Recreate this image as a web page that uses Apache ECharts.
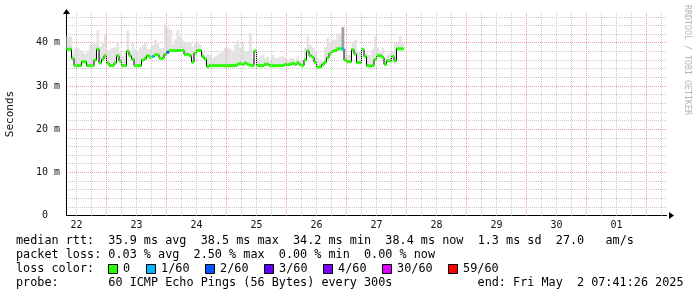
<!DOCTYPE html>
<html><head><meta charset="utf-8">
<script src="https://cdn.jsdelivr.net/npm/echarts@6/dist/echarts.min.js"></script>
<style>html,body{margin:0;padding:0;background:#fff}#c{width:697px;height:297px}</style>
</head><body><div id="c"></div>
<script>
// hours after Apr 22 00:00; each value covers one hour
const startHour = 8;
const median = [
38.5,38.5,36.4,34.7,34.7,34.7,35.6,35.6,34.7,34.7,
34.7,36.0,38.5,35.3,36.2,37.0,35.3,34.7,34.7,35.3,
37.0,35.8,34.7,34.7,38.0,37.0,36.2,34.7,34.7,34.7,
36.0,36.4,37.0,36.6,36.8,37.2,37.2,36.4,36.4,37.3,
37.8,38.2,38.2,38.2,38.2,38.2,38.2,37.3,37.3,37.0,
35.5,37.6,38.2,38.2,36.8,36.2,34.5,34.7,34.7,34.7,
34.7,34.7,34.7,34.7,34.7,34.7,34.7,34.7,35.0,35.2,
35.0,35.3,35.0,34.8,34.7,38.1,34.7,34.7,34.7,35.0,
35.0,34.7,34.7,34.7,34.7,34.7,34.7,35.0,34.9,35.0,
35.2,35.0,35.4,34.9,34.7,36.0,38.1,37.0,36.6,35.5,
34.3,34.4,34.9,35.5,36.5,37.5,38.0,38.2,38.6,38.6,
38.6,36.0,35.6,35.6,38.4,37.4,35.4,35.4,38.5,36.8,
34.7,34.6,34.7,36.1,37.0,37.0,36.6,35.0,35.8,35.8,
36.8,35.8,38.6,38.6,38.6
];
const smokeTop = [
41.5,41.5,37.5,38.8,38.8,38.2,37.8,37.3,38.0,39.5,
39.7,39.8,42.8,39.1,40.0,42.0,38.2,38.5,38.8,39.0,
40.2,37.6,37.0,38.0,42.8,38.2,39.9,38.5,38.0,38.8,
39.5,39.9,38.5,38.6,39.5,40.7,39.8,38.8,38.8,44.2,
43.5,43.0,39.5,40.8,43.0,41.5,40.5,39.9,40.2,40.0,
39.1,40.2,40.0,39.5,38.0,37.0,37.4,37.2,36.4,36.8,
37.2,37.6,38.0,38.8,38.8,38.5,37.8,39.5,40.5,38.8,
39.9,38.0,38.0,42.2,36.4,38.4,36.4,36.8,37.2,36.4,
36.8,36.0,37.2,36.4,36.4,36.8,36.8,36.4,36.0,36.4,
36.4,35.7,36.8,35.7,35.7,38.8,41.5,39.5,38.8,38.0,
36.4,35.7,35.7,39.1,41.1,39.9,40.7,40.7,42.2,42.2,
38.8,38.8,37.2,37.2,40.3,40.7,38.0,38.0,38.8,37.6,
37.2,37.2,38.4,41.5,38.8,38.0,38.8,36.4,37.2,37.6,
38.0,39.9,39.9,41.5,39.9
];
const lossHours = [42, 48, 118];
const lossPings = [1, 2, 1];
const darkSmokeHours = [118];
const darkSmokeLow = [38.8];
const darkSmokeHigh = [43.6];

const xMinHour = 8, xMaxHour = 248;
const dayTickHours = [12, 36, 60, 84, 108, 132, 156, 180, 204, 228];
const dayLabels = ['22', '23', '24', '25', '26', '27', '28', '29', '30', '01'];
const yLabels = {0: '0  ', 10: '10 m', 20: '20 m', 30: '30 m', 40: '40 m'};

const lossLegendLabels = ['0', '1/60', '2/60', '3/60', '4/60', '30/60', '59/60'];
const lossLegendPings = [0, 1, 2, 3, 4, 30, 59];
const lossLegendColors = ['#26ff00', '#00b8ff', '#0059ff', '#5e00ff', '#7e00ff', '#dd00ff', '#ff0000'];

const line1 = 'median rtt:  35.9 ms avg  38.5 ms max  34.2 ms min  38.4 ms now  1.3 ms sd  27.0   am/s';
const line2 = 'packet loss: 0.03 % avg  2.50 % max  0.00 % min  0.00 % now';
const line3Label = 'loss color:';
const line4 = 'probe:       60 ICMP Echo Pings (56 Bytes) every 300s';
const endText = 'end: Fri May  2 07:41:26 2025';
const watermark = 'RRDTOOL / TOBI OETIKER';

const MONO = '"DejaVu Sans Mono", monospace';
const LFONT = '11.8px ' + MONO;
const CW = 7.1;

function lossColor(p) {
  let c = lossLegendColors[0];
  for (let i = 0; i < lossLegendPings.length; i++) if (p >= lossLegendPings[i]) c = lossLegendColors[i];
  return c;
}

const hourOf = i => startHour + i;
const medianData = median.map((v, i) => {
  const k = lossHours.indexOf(hourOf(i));
  return [hourOf(i), v, k >= 0 ? lossPings[k] : 0];
});
const stepData = median.map((v, i) => [hourOf(i), v]);
stepData.push([hourOf(median.length), median[median.length - 1]]);
const smokeData = smokeTop.map((t, i) => [hourOf(i), median[i], t]);
const darkData = darkSmokeHours.map((h, i) => [h, darkSmokeLow[i], darkSmokeHigh[i]]);

const minorX = [], majorX = [];
for (let h = Math.ceil(xMinHour / 6) * 6; h < xMaxHour; h += 6) {
  if (h % 24 === 0) majorX.push({xAxis: h}); else minorX.push({xAxis: h});
}

function rangeRect(fill) {
  return function (params, api) {
    const h = api.value(0), lo = api.value(1), hi = api.value(2);
    const p0 = api.coord([h, hi]);
    const p1 = api.coord([h + 1, lo]);
    return {type: 'rect', shape: {x: p0[0], y: p0[1], width: p1[0] - p0[0] + 0.3, height: p1[1] - p0[1]},
      style: {fill: fill}};
  };
}

const chart = echarts.init(document.getElementById('c'), null, {renderer: 'canvas'});

const GRID_C = '#c8c8c8', MGRID_C = '#eea0a0';
const graphics = [];
const txt = (s, x, y, extra) => graphics.push({type: 'text', x: x, y: y,
  style: Object.assign({text: s, font: LFONT, fill: '#000', textVerticalAlign: 'middle'}, extra || {})});
txt(line1, 16, 241);
txt(line2, 16, 255);
txt(line3Label, 16, 269);
let bx = 108.5;
lossLegendLabels.forEach((t, i) => {
  graphics.push({type: 'rect', shape: {x: bx, y: 264.5, width: 9, height: 9},
    style: {fill: lossLegendColors[i], stroke: '#000', lineWidth: 1}});
  txt(t, bx + 14.6, 269);
  bx = Math.round(bx + 14.6 + t.length * CW + 15.6) + 0.5;
});
txt(line4, 16, 283);
txt(endText, 683.5, 283, {textAlign: 'right'});
graphics.push({type: 'text', x: 687, y: 5, rotation: -Math.PI / 2,
  style: {text: watermark, font: '8.3px ' + MONO, fill: '#b4b4b4', textAlign: 'left', textVerticalAlign: 'middle'}});

const dotted = c => ({color: c, type: [1, 1], dashOffset: 0.5, width: 1});

chart.setOption({
  animation: false,
  backgroundColor: '#fff',
  grid: {left: 66.5, width: 600, top: 12.5, height: 203, containLabel: false, outerBoundsMode: 'none'},
  xAxis: {
    type: 'value', min: xMinHour, max: xMaxHour,
    axisLine: {show: true, lineStyle: {color: '#000', width: 1}, symbol: ['none', 'triangle'], symbolSize: [7, 5], symbolOffset: [0, 5]},
    axisTick: {show: false},
    splitLine: {show: false},
    axisLabel: {customValues: dayTickHours, margin: 5, color: '#111', fontFamily: 'DejaVu Sans Mono', fontSize: 10,
      formatter: v => dayLabels[dayTickHours.indexOf(v)] || ''}
  },
  yAxis: {
    type: 'value', min: 0, max: 47, interval: 10,
    name: 'Seconds', nameLocation: 'middle', nameRotate: 90, nameGap: 51,
    nameTextStyle: {fontFamily: 'DejaVu Sans Mono', fontSize: 11, color: '#111'},
    axisLine: {show: true, lineStyle: {color: '#000', width: 1}, symbol: ['none', 'triangle'], symbolSize: [7, 5], symbolOffset: [0, 1]},
    axisTick: {show: false},
    axisLabel: {margin: 6.5, color: '#111', fontFamily: 'DejaVu Sans Mono', fontSize: 10,
      formatter: v => (v in yLabels ? yLabels[v] : '')},
    splitLine: {show: true, showMaxLine: false, lineStyle: dotted(MGRID_C)},
    minorTick: {show: false, splitNumber: 5},
    minorSplitLine: {show: true, lineStyle: dotted(GRID_C)}
  },
  graphic: graphics,
  series: [
    {type: 'line', data: [], z: 1, silent: true,
      markLine: {silent: true, symbol: ['none', 'none'], label: {show: false}, emphasis: {disabled: true},
        lineStyle: dotted(GRID_C), data: minorX}},
    {type: 'line', data: [], z: 1, silent: true,
      markLine: {silent: true, symbol: ['none', 'none'], label: {show: false}, emphasis: {disabled: true},
        lineStyle: dotted(MGRID_C), data: majorX}},
    {type: 'custom', name: 'smoke', data: smokeData, renderItem: rangeRect('#e3e3e3'), z: 2, silent: true},
    {type: 'custom', name: 'smoke dense', data: darkData, renderItem: rangeRect('#a0a0a0'), z: 2, silent: true},
    {type: 'line', name: 'median', data: stepData, step: 'end', showSymbol: false, symbol: 'none', z: 3,
      lineStyle: {color: '#000', width: 1}, silent: true},
    {type: 'custom', name: 'median loss', data: medianData, z: 4, silent: true,
      renderItem: function (params, api) {
        const h = api.value(0), v = api.value(1), p = api.value(2);
        const p0 = api.coord([h, v]);
        const p1 = api.coord([h + 1, v]);
        return {type: 'rect', shape: {x: p0[0], y: p0[1] - 1.5, width: p1[0] - p0[0], height: 3},
          style: {fill: lossColor(p)}};
      }}
  ]
});
</script>
</body></html>
